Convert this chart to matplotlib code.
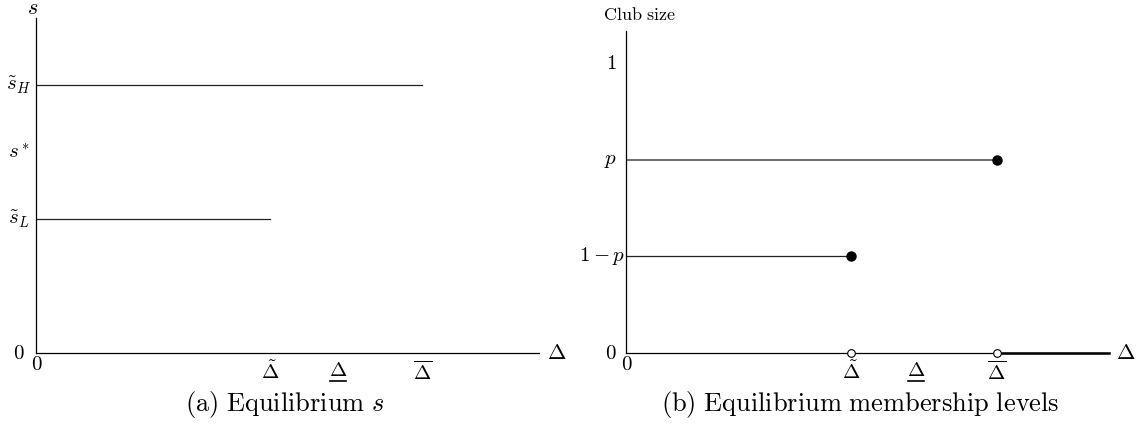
import matplotlib
matplotlib.use("Agg")
import matplotlib.pyplot as plt
from matplotlib.lines import Line2D
from matplotlib.transforms import offset_copy

plt.rcParams["mathtext.fontset"] = "cm"

# thresholds on the Delta axis (shared by both panels)
delta_tilde = 0.466
delta_under = 0.60
delta_over = 0.768
x_ticks = [delta_tilde, delta_under, delta_over]
# the middle label gets its underline drawn by hand (mathtext has no \underline)
x_labels = [r"$\tilde{\Delta}$", r"$\Delta$", r"$\overline{\Delta}$"]

# panel (a): equilibrium s levels
s_low, s_star, s_high = 0.4, 0.6, 0.8
s_ticks = [0, s_low, s_star, s_high]
s_labels = ["$0$", r"$\tilde{s}_L$", "$s^*$", r"$\tilde{s}_H$"]

# panel (b): club sizes
p = 2 / 3
club_ticks = [0, 1 - p, p, 1]
club_labels = ["$0$", "$1-p$", "$p$", "$1$"]

W, H = 1141, 433
fig = plt.figure(figsize=(W / 100, H / 100), dpi=100)


def make_axes(x0, x1, y0, y1):
    ax = fig.add_axes([x0 / W, 1 - y0 / H, (x1 - x0) / W, (y0 - y1) / H])
    for side in ["top", "right"]:
        ax.spines[side].set_visible(False)
    for side in ["left", "bottom"]:
        ax.spines[side].set_linewidth(0.9)
    ax.tick_params(length=0, labelsize=15)
    ax.tick_params(axis="x", pad=5)
    ax.set_xlim(0, 1)
    ax.set_xticks(x_ticks)
    ax.set_xticklabels(x_labels)
    ax.set_yticks([])
    # origin label on the x axis sits a little higher than the Delta labels
    ax.text(0, 0, "$0$", fontsize=15, ha="center", va="center",
            transform=offset_copy(ax.transData, fig=fig, x=0.5, y=-11, units="dots"))
    ax.text(1.015, 0, r"$\Delta$", fontsize=16, va="center", ha="left",
            transform=ax.get_yaxis_transform(which="grid"), clip_on=False)
    return ax


def y_labels(ax, ticks, labels, dx, right_aligned=()):
    for t, lab in zip(ticks, labels):
        if lab in right_aligned:
            tr = offset_copy(ax.get_yaxis_transform(), fig=fig, x=-1, y=0, units="dots")
            ax.text(0, t, lab, fontsize=15, ha="right", va="center", transform=tr)
        else:
            tr = offset_copy(ax.get_yaxis_transform(), fig=fig, x=-dx, y=0, units="dots")
            ax.text(0, t, lab, fontsize=15, ha="center", va="center", transform=tr)


def underline_label(ax, idx):
    fig.canvas.draw()
    bb = ax.get_xticklabels()[idx].get_window_extent()
    y = bb.y0 - 1
    fig.add_artist(Line2D([bb.x0 + 1, bb.x1 - 1], [y, y], color="black",
                          lw=1.2, transform=None))


# (a) Equilibrium s
ax1 = make_axes(36, 539, 353, 18)
ax1.set_ylim(0, 1)
y_labels(ax1, s_ticks, s_labels, 17)
ax1.plot([0, delta_over], [s_high, s_high], color="#222222", lw=0.9)
ax1.plot([0, delta_tilde], [s_low, s_low], color="#222222", lw=0.9)
ax1.text(-0.006, 1.0, "$s$", fontsize=16, ha="center", va="bottom",
         transform=ax1.transAxes)
fig.text(285 / W, 1 - 405 / H, r"$\mathrm{(a)\ Equilibrium}\ s$",
         fontsize=19, ha="center", va="center")

# (b) Equilibrium membership levels
ax2 = make_axes(626, 1109, 353, 31)
ax2.set_ylim(0, 1.11)
y_labels(ax2, club_ticks, club_labels, 15, right_aligned=("$1-p$",))
ax2.plot([0, delta_over], [p, p], color="#444444", lw=1.1)
ax2.plot([0, delta_tilde], [1 - p, 1 - p], color="#222222", lw=0.9)
ax2.plot([delta_over, 1], [0, 0], color="black", lw=1.8, clip_on=False)
ax2.plot([delta_tilde, delta_over], [1 - p, p], "o", color="black",
         ms=6.5, linestyle="none", zorder=5)
ax2.plot([delta_tilde, delta_over], [0, 0], "o", mfc="white", mec="black",
         mew=0.8, ms=5.5, linestyle="none", zorder=5, clip_on=False)
fig.text(639 / W, 1 - 15 / H, r"$\mathrm{Club\ size}$", fontsize=13,
         ha="center", va="center")
fig.text(860 / W, 1 - 405 / H, r"$\mathrm{(b)\ Equilibrium\ membership\ levels}$",
         fontsize=19, ha="center", va="center")

underline_label(ax1, 1)
underline_label(ax2, 1)

fig.savefig("out.png", dpi=100)
